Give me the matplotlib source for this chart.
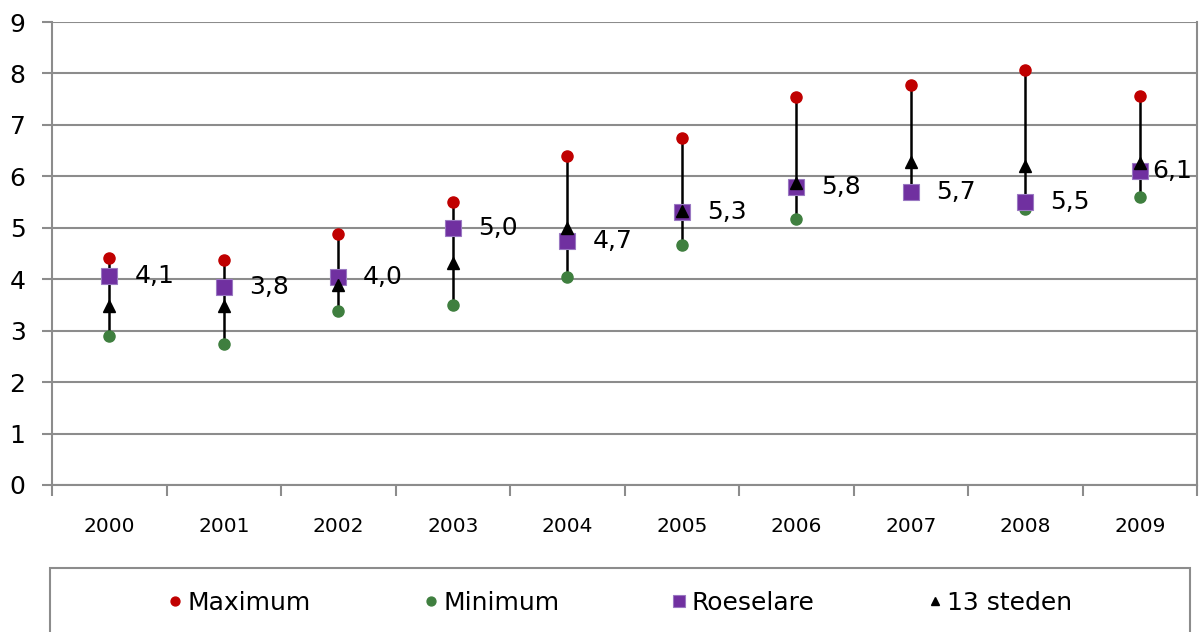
import numpy as np
import matplotlib
matplotlib.use('Agg')
import matplotlib.pyplot as plt
from matplotlib.patches import Rectangle

years = ['2000', '2001', '2002', '2003', '2004', '2005', '2006', '2007', '2008', '2009']
maximum = [4.41, 4.37, 4.87, 5.51, 6.39, 6.75, 7.54, 7.77, 8.06, 7.56]
minimum = [2.90, 2.75, 3.39, 3.50, 4.04, 4.67, 5.18, 5.68, 5.36, 5.60]
roeselare = [4.06, 3.84, 4.04, 5.00, 4.74, 5.31, 5.79, 5.70, 5.50, 6.10]
steden13 = [3.47, 3.48, 3.89, 4.31, 4.99, 5.33, 5.88, 6.27, 6.21, 6.25]

RED = '#C00000'
GREEN = '#3F7F3F'
PURPLE = '#7030A0'
GRAY = '#8C8C8C'

W, H = 1202, 632
fig = plt.figure(figsize=(W / 100, H / 100), dpi=100)
ax = fig.add_axes([52 / W, 1 - 485 / H, (1197 - 52) / W, (485 - 22) / H])

x = np.arange(len(years))
ax.set_xlim(-0.5, len(years) - 0.5)
ax.set_ylim(0, 9)

# high-low lines
ax.vlines(x, minimum, maximum, color='black', lw=1.8, zorder=2)

ax.plot(x, maximum, 'o', color=RED, ms=8, ls='none', label='Maximum', zorder=3)
ax.plot(x, minimum, 'o', color=GREEN, ms=8, ls='none', label='Minimum', zorder=3)
ax.plot(x, roeselare, 's', color=PURPLE, mec='#9A78C2', mew=0.8, ms=11,
        ls='none', label='Roeselare', zorder=4)
ax.plot(x, steden13, '^', color='black', ms=8, ls='none', label='13 steden', zorder=5)

# data labels for Roeselare
for i, v in enumerate(roeselare):
    off = 18 if i < len(roeselare) - 1 else 9
    ax.annotate(f'{v:.1f}'.replace('.', ','), (x[i], v), xytext=(off, 0),
                textcoords='offset points', ha='left', va='center',
                fontsize=18, zorder=6)

ax.set_yticks(range(10))
ax.yaxis.grid(True, color=GRAY, lw=1.5)
ax.set_axisbelow(True)
ax.tick_params(axis='y', labelsize=18, length=7, width=1.5, color=GRAY, pad=12)

ax.set_xticks(x)
ax.set_xticklabels(years)
ax.set_xticks(np.arange(-0.5, len(years), 1), minor=True)
ax.tick_params(axis='x', which='major', length=0, labelsize=14.5, pad=23)
ax.tick_params(axis='x', which='minor', length=8, width=1.5, color=GRAY)

ax.spines['top'].set_visible(False)
for side in ['left', 'right', 'bottom']:
    ax.spines[side].set_color(GRAY)
    ax.spines[side].set_linewidth(1.5)

# legend box runs off the bottom of the picture
fig.add_artist(Rectangle((50 / W, -0.05), 1140 / W, (1 - 568 / H) + 0.05,
                         transform=fig.transFigure, fill=False,
                         edgecolor=GRAY, lw=1.5))
fig.legend(loc='center', bbox_to_anchor=(620 / W, 1 - 603 / H), ncol=4,
           frameon=False, fontsize=18, columnspacing=4.5, handlelength=0.6,
           handletextpad=0.2, markerscale=0.8)

fig.savefig('out.png', dpi=100)
